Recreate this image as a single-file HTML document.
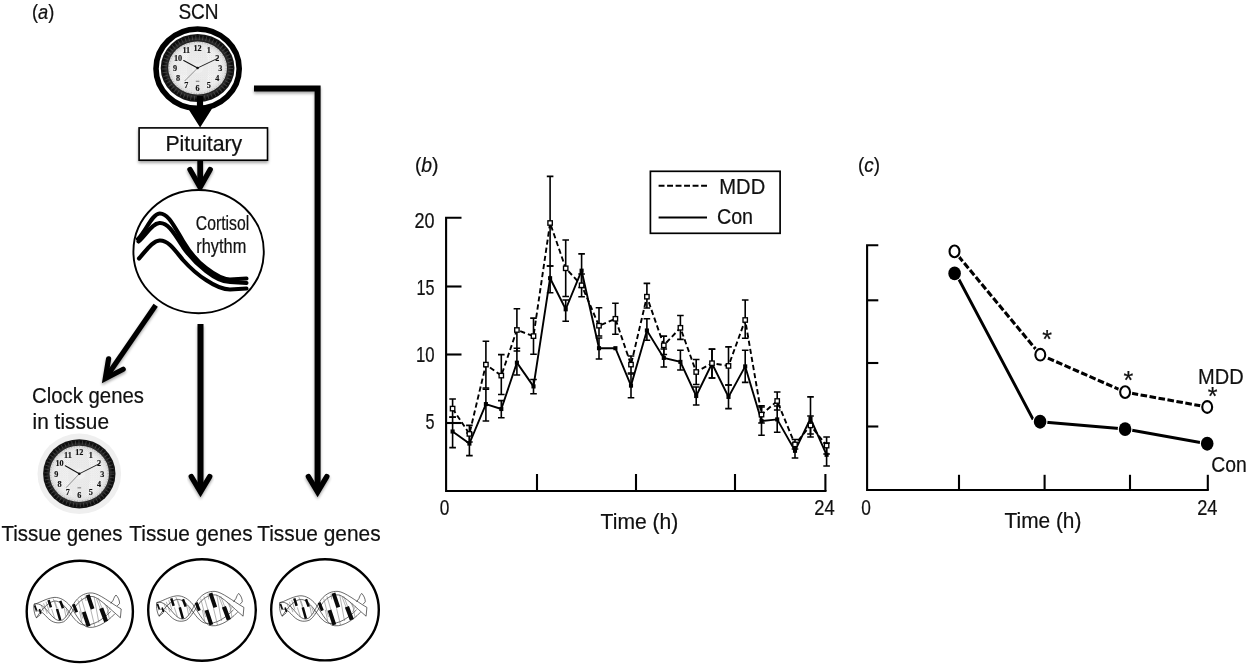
<!DOCTYPE html>
<html lang="en"><head><meta charset="utf-8"><title>Circadian clock, cortisol rhythm and clock gene expression</title>
<style>html,body{margin:0;padding:0;background:#fff}body{width:1250px;height:665px;overflow:hidden}svg{display:block}text{font-family:"Liberation Sans", Arial, sans-serif;fill:#111;stroke:#111;stroke-width:0.22px}.num text{font-family:"Liberation Serif",serif;font-weight:bold;fill:#111;stroke-width:0.15px}</style></head><body>
<svg width="1250" height="665" viewBox="0 0 1250 665">
<defs>
<radialGradient id="bezel" cx="50%" cy="50%" r="50%">
<stop offset="0.70" stop-color="#0c0c0c"/><stop offset="0.84" stop-color="#2b2b2b"/><stop offset="0.93" stop-color="#0a0a0a"/><stop offset="1" stop-color="#1a1a1a"/>
</radialGradient>
<radialGradient id="face" cx="50%" cy="50%" r="50%">
<stop offset="0" stop-color="#ffffff"/><stop offset="0.8" stop-color="#f4f4f4"/><stop offset="1" stop-color="#dcdcdc"/>
</radialGradient>
<pattern id="dots" width="2.2" height="2.2" patternUnits="userSpaceOnUse"><rect width="2.2" height="2.2" fill="none"/><circle cx="0.6" cy="0.6" r="0.5" fill="#8a8a8a"/><circle cx="1.7" cy="1.7" r="0.4" fill="#b0b0b0"/></pattern>
<filter id="sh" x="-20%" y="-20%" width="140%" height="160%"><feGaussianBlur in="SourceAlpha" stdDeviation="1.6"/><feOffset dx="0" dy="1.5"/><feComponentTransfer><feFuncA type="linear" slope="0.36"/></feComponentTransfer><feMerge><feMergeNode/><feMergeNode in="SourceGraphic"/></feMerge></filter>
</defs>
<rect width="1250" height="665" fill="#fff"/>
<g id="panel-a">
<text transform="translate(32.00,18.5) scale(0.8886,1)" font-size="20.5">(<tspan font-style="italic">a</tspan>)</text>
<text transform="translate(178.40,18.5) scale(0.8903,1)" font-size="21.4">SCN</text>
<ellipse cx="197.6" cy="68.7" rx="41.6" ry="39.7" fill="#fff" stroke="#000" stroke-width="5.6"/>
<g>
<ellipse cx="197.6" cy="68" rx="36.9" ry="34" fill="url(#bezel)"/>
<ellipse cx="197.6" cy="68" rx="33.15" ry="30.25" fill="none" stroke="#777" stroke-width="4.5" stroke-dasharray="0.9 2.6" opacity="0.45"/>
<ellipse cx="197.6" cy="68" rx="29.4" ry="26.5" fill="url(#face)"/>
<ellipse cx="197.6" cy="68" rx="29.4" ry="26.5" fill="url(#dots)" opacity="0.4"/>
<ellipse cx="197.6" cy="68" rx="10.584" ry="25.174999999999997" fill="#e4e4e4" opacity="0.55"/>
<ellipse cx="197.6" cy="68" rx="27.929999999999996" ry="7.949999999999999" fill="#e9e9e9" opacity="0.5"/>
<ellipse cx="197.6" cy="68" rx="5.88" ry="5.300000000000001" fill="#fafafa" opacity="0.35"/>
<ellipse cx="197.6" cy="68" rx="28.599999999999998" ry="25.7" fill="none" stroke="#777" stroke-width="1.4" stroke-dasharray="0.5 2.2" opacity="0.6"/>
<g class="num" font-size="8.2" text-anchor="middle">
<text x="208.9" y="53.3">1</text>
<text x="217.2" y="60.7">2</text>
<text x="220.2" y="70.8">3</text>
<text x="217.2" y="80.9">4</text>
<text x="208.9" y="88.2">5</text>
<text x="197.6" y="90.9">6</text>
<text x="186.3" y="88.2">7</text>
<text x="178.0" y="80.9">8</text>
<text x="175.0" y="70.8">9</text>
<text x="178.0" y="60.7">10</text>
<text x="186.3" y="53.3">11</text>
<text x="197.6" y="50.6">12</text>
</g>
<line x1="195.79999999999998" y1="81.25" x2="199.4" y2="81.25" stroke="#444" stroke-width="0.7"/>
<line x1="197.6" y1="68" x2="183.7" y2="60.5" stroke="#111" stroke-width="1.05" stroke-linecap="round"/>
<line x1="197.6" y1="68" x2="217.8" y2="58.3" stroke="#111" stroke-width="0.8925" stroke-linecap="round"/>
<line x1="197.6" y1="68" x2="184.6" y2="81.0" stroke="#333" stroke-width="0.5"/>
<circle cx="197.6" cy="68" r="1.3" fill="#111"/>
</g>
<path d="M196.9,96 L203.1,96 L203.1,106 L213.7,106 L200.1,127.5 L186.5,106 L196.9,106 Z" fill="#000"/>
<g filter="url(#sh)"><rect x="139.1" y="127.9" width="128.4" height="32.3" fill="#fff" stroke="#000" stroke-width="1.6"/></g>
<text transform="translate(165.40,151.1) scale(0.9670,1)" font-size="22">Pituitary</text>
<g filter="url(#sh)" stroke="#000" fill="none" stroke-linecap="round" stroke-linejoin="miter"><line x1="200.2" y1="161" x2="200.2" y2="184" stroke-width="5.8" stroke-linecap="butt"/><path d="M190,169.5 L200.1,187.3 L210.2,169.5" stroke-width="5.4"/></g>
<ellipse cx="198.6" cy="251.6" rx="65.2" ry="61.6" fill="#fff" stroke="#000" stroke-width="1.9"/>
<g fill="none" stroke="#000" stroke-width="4.1" stroke-linecap="round" stroke-linejoin="round">
<path d="M138,239 C146,231 152,214 159.5,213.5 C168,213 174,226 183,241 C192,256 198,262 206,268 C215,275 222,279.5 230,279.5 L246.5,278.5"/>
<path d="M138.5,241.5 C146,235 152,223.5 159.5,223 C168,222.5 174,233 183,247 C192,260 198,265 206,271 C215,278 222,282 230,282 L246.5,283"/>
<path d="M139,258.5 C146,251 152,241 159.5,240.5 C168,240 174,249 183,260 C192,270 198,275 206,280 C215,286 222,289.5 230,289.5 L246.5,288.5"/>
</g>
<text transform="translate(195.80,229.8) scale(0.8120,1)" font-size="19.4">Cortisol</text>
<text transform="translate(196.30,252.8) scale(0.8436,1)" font-size="19.4">rhythm</text>
<g filter="url(#sh)" stroke="#000" fill="none"><path d="M254,88.5 L317.6,88.5 L317.6,490" stroke-width="6" stroke-linejoin="miter"/><path d="M308.4,476.6 L317.6,492 L326.8,476.6" stroke-width="5.4" stroke-linecap="round"/></g>
<g filter="url(#sh)" stroke="#000" fill="none"><line x1="200.5" y1="324" x2="200.5" y2="490" stroke-width="6"/><path d="M191.3,476.6 L200.5,492 L209.7,476.6" stroke-width="5.4" stroke-linecap="round"/></g>
<g filter="url(#sh)" stroke="#000" fill="none"><line x1="155.7" y1="305.3" x2="107" y2="376" stroke-width="5.2"/><path d="M108.6,358.8 L105.3,378.6 L123.2,369.2" stroke-width="5.2" stroke-linecap="round" stroke-linejoin="miter"/></g>
<text transform="translate(32.00,402.8) scale(0.9333,1)" font-size="21.8">Clock genes</text>
<text transform="translate(32.60,429.3) scale(0.9562,1)" font-size="21.8">in tissue</text>
<ellipse cx="79.3" cy="473.8" rx="41.8" ry="40.2" fill="#efefef"/>
<g>
<ellipse cx="79.3" cy="473.8" rx="36.2" ry="34.6" fill="url(#bezel)"/>
<ellipse cx="79.3" cy="473.8" rx="32.95" ry="31.35" fill="none" stroke="#777" stroke-width="3.9" stroke-dasharray="0.9 2.6" opacity="0.45"/>
<ellipse cx="79.3" cy="473.8" rx="29.700000000000003" ry="28.1" fill="url(#face)"/>
<ellipse cx="79.3" cy="473.8" rx="29.700000000000003" ry="28.1" fill="url(#dots)" opacity="0.4"/>
<ellipse cx="79.3" cy="473.8" rx="10.692" ry="26.695" fill="#e4e4e4" opacity="0.55"/>
<ellipse cx="79.3" cy="473.8" rx="28.215" ry="8.43" fill="#e9e9e9" opacity="0.5"/>
<ellipse cx="79.3" cy="473.8" rx="5.940000000000001" ry="5.620000000000001" fill="#fafafa" opacity="0.35"/>
<ellipse cx="79.3" cy="473.8" rx="28.900000000000002" ry="27.3" fill="none" stroke="#777" stroke-width="1.4" stroke-dasharray="0.5 2.2" opacity="0.6"/>
<g class="num" font-size="8.2" text-anchor="middle">
<text x="90.7" y="458.1">1</text>
<text x="99.1" y="465.9">2</text>
<text x="102.2" y="476.6">3</text>
<text x="99.1" y="487.3">4</text>
<text x="90.7" y="495.1">5</text>
<text x="79.3" y="497.9">6</text>
<text x="67.9" y="495.1">7</text>
<text x="59.5" y="487.3">8</text>
<text x="56.4" y="476.6">9</text>
<text x="59.5" y="465.9">10</text>
<text x="67.9" y="458.1">11</text>
<text x="79.3" y="455.2">12</text>
</g>
<line x1="77.5" y1="487.85" x2="81.1" y2="487.85" stroke="#444" stroke-width="0.7"/>
<line x1="79.3" y1="473.8" x2="65.3" y2="465.8" stroke="#111" stroke-width="1.05" stroke-linecap="round"/>
<line x1="79.3" y1="473.8" x2="99.8" y2="463.5" stroke="#111" stroke-width="0.8925" stroke-linecap="round"/>
<line x1="79.3" y1="473.8" x2="66.2" y2="487.6" stroke="#333" stroke-width="0.5"/>
<circle cx="79.3" cy="473.8" r="1.3" fill="#111"/>
</g>
<text transform="translate(1.60,540.6) scale(0.9376,1)" font-size="21.8">Tissue genes</text>
<text transform="translate(129.30,540.6) scale(0.9570,1)" font-size="21.8">Tissue genes</text>
<text transform="translate(257.20,540.6) scale(0.9586,1)" font-size="21.8">Tissue genes</text>
<ellipse cx="79.8" cy="611.4" rx="53.1" ry="50.7" fill="#fff" stroke="#000" stroke-width="2.4"/>
<g transform="translate(0,0)" fill="none" stroke="#1a1a1a" stroke-width="0.65">
<path d="M34.00,604.20 C40.40,602.20 45.20,608.20 50.00,613.80 C54.00,618.60 58.00,622.20 62.80,619.80 C67.60,616.60 70.80,607.40 75.60,601.00 C80.40,595.00 86.00,592.60 92.40,593.00 C99.60,593.80 110.00,602.60 121.20,609.00"/>
<path d="M35.60,611.40 C40.40,609.00 44.40,614.60 48.40,618.60 C52.40,622.20 57.20,624.20 63.60,621.80 C68.40,619.00 72.40,610.60 77.20,604.20 C82.00,598.60 87.60,595.80 93.20,596.60 C99.60,598.20 110.00,609.00 120.40,617.80"/>
<path d="M121.20,609.00 L120.40,617.80"/>
<path d="M34.00,604.20 C38.80,603.40 45.20,598.60 54.00,597.40 C60.40,597.00 66.00,601.00 70.00,605.80 C74.80,612.20 79.60,622.60 86.00,626.60 C94.00,629.80 106.00,623.40 114.80,613.80"/>
<path d="M36.40,617.80 C40.40,611.40 46.80,603.00 54.00,601.00 C59.60,600.60 63.60,605.00 67.60,609.80 C72.40,616.20 77.20,624.20 83.60,625.00 C93.20,625.80 102.00,620.20 110.80,611.40"/>
<path d="M113.20,600.20 C114.00,597.80 114.80,596.20 116.00,595.00 C118.00,597.00 119.60,600.20 119.60,603.40 L117.20,605.96 M113.20,600.20 L110.80,603.40"/>
<path d="M34.00,604.20 C33.20,609.00 34.80,615.40 36.40,617.80 L40.40,614.60"/>
<path d="M43.60,603.40 L47.20,613.80" stroke="#666" stroke-width="0.5"/>
<path d="M53.20,598.60 L57.60,611.40" stroke="#666" stroke-width="0.5"/>
<path d="M54.80,601.00 L57.20,608.20" stroke="#666" stroke-width="0.5"/>
<path d="M63.60,605.00 L66.00,617.00" stroke="#666" stroke-width="0.5"/>
<path d="M78.00,600.20 L82.80,618.60" stroke="#666" stroke-width="0.5"/>
<path d="M81.20,597.80 L85.20,611.40" stroke="#666" stroke-width="0.5"/>
<path d="M94.00,596.20 L98.80,622.60" stroke="#666" stroke-width="0.5"/>
<path d="M96.40,598.60 L100.40,609.00" stroke="#666" stroke-width="0.5"/>
<path d="M106.80,605.00 L109.20,618.60" stroke="#666" stroke-width="0.5"/>
<path d="M110.00,607.40 L106.80,613.80" stroke="#666" stroke-width="0.5"/>
<path d="M85.20,595.40 L86.00,601.00" stroke="#666" stroke-width="0.5"/>
<path d="M46.00,601.80 L49.20,611.40" stroke="#666" stroke-width="0.5"/>
<path d="M51.60,609.00 L54.80,618.60" stroke="#666" stroke-width="0.5"/>
<path d="M66.00,609.00 L68.40,615.40" stroke="#666" stroke-width="0.5"/>
<path d="M79.60,611.40 L82.00,622.60" stroke="#666" stroke-width="0.5"/>
<path d="M90.80,609.80 L94.80,626.60" stroke="#666" stroke-width="0.5"/>
<path d="M98.00,597.80 L102.00,608.20" stroke="#666" stroke-width="0.5"/>
<path d="M104.40,603.40 L107.60,609.00" stroke="#666" stroke-width="0.5"/>
<path d="M41.20,605.00 L43.60,611.40" stroke="#666" stroke-width="0.5"/>
<path d="M34.64,605.40 L36.56,610.60" stroke="#0a0a0a" stroke-width="1.79"/>
<path d="M39.44,609.00 L40.88,613.80" stroke="#0a0a0a" stroke-width="1.61"/>
<path d="M48.56,600.04 L50.96,607.40" stroke="#0a0a0a" stroke-width="2.51"/>
<path d="M57.04,609.00 L60.24,620.20" stroke="#0a0a0a" stroke-width="2.51"/>
<path d="M60.24,600.84 L62.96,608.20" stroke="#0a0a0a" stroke-width="2.51"/>
<path d="M73.44,604.20 L76.64,612.20" stroke="#0a0a0a" stroke-width="3.05"/>
<path d="M83.76,611.80 L88.64,626.44" stroke="#0a0a0a" stroke-width="3.94"/>
<path d="M87.76,594.76 L92.56,609.00" stroke="#0a0a0a" stroke-width="3.94"/>
<path d="M101.20,608.36 L106.16,621.40" stroke="#0a0a0a" stroke-width="4.30"/>
</g>
<ellipse cx="202" cy="610" rx="53.8" ry="50.8" fill="#fff" stroke="#000" stroke-width="2.4"/>
<g transform="translate(122.7,-1.6)" fill="none" stroke="#1a1a1a" stroke-width="0.65">
<path d="M34.00,604.20 C40.40,602.20 45.20,608.20 50.00,613.80 C54.00,618.60 58.00,622.20 62.80,619.80 C67.60,616.60 70.80,607.40 75.60,601.00 C80.40,595.00 86.00,592.60 92.40,593.00 C99.60,593.80 110.00,602.60 121.20,609.00"/>
<path d="M35.60,611.40 C40.40,609.00 44.40,614.60 48.40,618.60 C52.40,622.20 57.20,624.20 63.60,621.80 C68.40,619.00 72.40,610.60 77.20,604.20 C82.00,598.60 87.60,595.80 93.20,596.60 C99.60,598.20 110.00,609.00 120.40,617.80"/>
<path d="M121.20,609.00 L120.40,617.80"/>
<path d="M34.00,604.20 C38.80,603.40 45.20,598.60 54.00,597.40 C60.40,597.00 66.00,601.00 70.00,605.80 C74.80,612.20 79.60,622.60 86.00,626.60 C94.00,629.80 106.00,623.40 114.80,613.80"/>
<path d="M36.40,617.80 C40.40,611.40 46.80,603.00 54.00,601.00 C59.60,600.60 63.60,605.00 67.60,609.80 C72.40,616.20 77.20,624.20 83.60,625.00 C93.20,625.80 102.00,620.20 110.80,611.40"/>
<path d="M113.20,600.20 C114.00,597.80 114.80,596.20 116.00,595.00 C118.00,597.00 119.60,600.20 119.60,603.40 L117.20,605.96 M113.20,600.20 L110.80,603.40"/>
<path d="M34.00,604.20 C33.20,609.00 34.80,615.40 36.40,617.80 L40.40,614.60"/>
<path d="M43.60,603.40 L47.20,613.80" stroke="#666" stroke-width="0.5"/>
<path d="M53.20,598.60 L57.60,611.40" stroke="#666" stroke-width="0.5"/>
<path d="M54.80,601.00 L57.20,608.20" stroke="#666" stroke-width="0.5"/>
<path d="M63.60,605.00 L66.00,617.00" stroke="#666" stroke-width="0.5"/>
<path d="M78.00,600.20 L82.80,618.60" stroke="#666" stroke-width="0.5"/>
<path d="M81.20,597.80 L85.20,611.40" stroke="#666" stroke-width="0.5"/>
<path d="M94.00,596.20 L98.80,622.60" stroke="#666" stroke-width="0.5"/>
<path d="M96.40,598.60 L100.40,609.00" stroke="#666" stroke-width="0.5"/>
<path d="M106.80,605.00 L109.20,618.60" stroke="#666" stroke-width="0.5"/>
<path d="M110.00,607.40 L106.80,613.80" stroke="#666" stroke-width="0.5"/>
<path d="M85.20,595.40 L86.00,601.00" stroke="#666" stroke-width="0.5"/>
<path d="M46.00,601.80 L49.20,611.40" stroke="#666" stroke-width="0.5"/>
<path d="M51.60,609.00 L54.80,618.60" stroke="#666" stroke-width="0.5"/>
<path d="M66.00,609.00 L68.40,615.40" stroke="#666" stroke-width="0.5"/>
<path d="M79.60,611.40 L82.00,622.60" stroke="#666" stroke-width="0.5"/>
<path d="M90.80,609.80 L94.80,626.60" stroke="#666" stroke-width="0.5"/>
<path d="M98.00,597.80 L102.00,608.20" stroke="#666" stroke-width="0.5"/>
<path d="M104.40,603.40 L107.60,609.00" stroke="#666" stroke-width="0.5"/>
<path d="M41.20,605.00 L43.60,611.40" stroke="#666" stroke-width="0.5"/>
<path d="M34.64,605.40 L36.56,610.60" stroke="#0a0a0a" stroke-width="1.79"/>
<path d="M39.44,609.00 L40.88,613.80" stroke="#0a0a0a" stroke-width="1.61"/>
<path d="M48.56,600.04 L50.96,607.40" stroke="#0a0a0a" stroke-width="2.51"/>
<path d="M57.04,609.00 L60.24,620.20" stroke="#0a0a0a" stroke-width="2.51"/>
<path d="M60.24,600.84 L62.96,608.20" stroke="#0a0a0a" stroke-width="2.51"/>
<path d="M73.44,604.20 L76.64,612.20" stroke="#0a0a0a" stroke-width="3.05"/>
<path d="M83.76,611.80 L88.64,626.44" stroke="#0a0a0a" stroke-width="3.94"/>
<path d="M87.76,594.76 L92.56,609.00" stroke="#0a0a0a" stroke-width="3.94"/>
<path d="M101.20,608.36 L106.16,621.40" stroke="#0a0a0a" stroke-width="4.30"/>
</g>
<ellipse cx="325" cy="609.8" rx="53.8" ry="50.6" fill="#fff" stroke="#000" stroke-width="2.4"/>
<g transform="translate(245.7,-1.6)" fill="none" stroke="#1a1a1a" stroke-width="0.65">
<path d="M34.00,604.20 C40.40,602.20 45.20,608.20 50.00,613.80 C54.00,618.60 58.00,622.20 62.80,619.80 C67.60,616.60 70.80,607.40 75.60,601.00 C80.40,595.00 86.00,592.60 92.40,593.00 C99.60,593.80 110.00,602.60 121.20,609.00"/>
<path d="M35.60,611.40 C40.40,609.00 44.40,614.60 48.40,618.60 C52.40,622.20 57.20,624.20 63.60,621.80 C68.40,619.00 72.40,610.60 77.20,604.20 C82.00,598.60 87.60,595.80 93.20,596.60 C99.60,598.20 110.00,609.00 120.40,617.80"/>
<path d="M121.20,609.00 L120.40,617.80"/>
<path d="M34.00,604.20 C38.80,603.40 45.20,598.60 54.00,597.40 C60.40,597.00 66.00,601.00 70.00,605.80 C74.80,612.20 79.60,622.60 86.00,626.60 C94.00,629.80 106.00,623.40 114.80,613.80"/>
<path d="M36.40,617.80 C40.40,611.40 46.80,603.00 54.00,601.00 C59.60,600.60 63.60,605.00 67.60,609.80 C72.40,616.20 77.20,624.20 83.60,625.00 C93.20,625.80 102.00,620.20 110.80,611.40"/>
<path d="M113.20,600.20 C114.00,597.80 114.80,596.20 116.00,595.00 C118.00,597.00 119.60,600.20 119.60,603.40 L117.20,605.96 M113.20,600.20 L110.80,603.40"/>
<path d="M34.00,604.20 C33.20,609.00 34.80,615.40 36.40,617.80 L40.40,614.60"/>
<path d="M43.60,603.40 L47.20,613.80" stroke="#666" stroke-width="0.5"/>
<path d="M53.20,598.60 L57.60,611.40" stroke="#666" stroke-width="0.5"/>
<path d="M54.80,601.00 L57.20,608.20" stroke="#666" stroke-width="0.5"/>
<path d="M63.60,605.00 L66.00,617.00" stroke="#666" stroke-width="0.5"/>
<path d="M78.00,600.20 L82.80,618.60" stroke="#666" stroke-width="0.5"/>
<path d="M81.20,597.80 L85.20,611.40" stroke="#666" stroke-width="0.5"/>
<path d="M94.00,596.20 L98.80,622.60" stroke="#666" stroke-width="0.5"/>
<path d="M96.40,598.60 L100.40,609.00" stroke="#666" stroke-width="0.5"/>
<path d="M106.80,605.00 L109.20,618.60" stroke="#666" stroke-width="0.5"/>
<path d="M110.00,607.40 L106.80,613.80" stroke="#666" stroke-width="0.5"/>
<path d="M85.20,595.40 L86.00,601.00" stroke="#666" stroke-width="0.5"/>
<path d="M46.00,601.80 L49.20,611.40" stroke="#666" stroke-width="0.5"/>
<path d="M51.60,609.00 L54.80,618.60" stroke="#666" stroke-width="0.5"/>
<path d="M66.00,609.00 L68.40,615.40" stroke="#666" stroke-width="0.5"/>
<path d="M79.60,611.40 L82.00,622.60" stroke="#666" stroke-width="0.5"/>
<path d="M90.80,609.80 L94.80,626.60" stroke="#666" stroke-width="0.5"/>
<path d="M98.00,597.80 L102.00,608.20" stroke="#666" stroke-width="0.5"/>
<path d="M104.40,603.40 L107.60,609.00" stroke="#666" stroke-width="0.5"/>
<path d="M41.20,605.00 L43.60,611.40" stroke="#666" stroke-width="0.5"/>
<path d="M34.64,605.40 L36.56,610.60" stroke="#0a0a0a" stroke-width="1.79"/>
<path d="M39.44,609.00 L40.88,613.80" stroke="#0a0a0a" stroke-width="1.61"/>
<path d="M48.56,600.04 L50.96,607.40" stroke="#0a0a0a" stroke-width="2.51"/>
<path d="M57.04,609.00 L60.24,620.20" stroke="#0a0a0a" stroke-width="2.51"/>
<path d="M60.24,600.84 L62.96,608.20" stroke="#0a0a0a" stroke-width="2.51"/>
<path d="M73.44,604.20 L76.64,612.20" stroke="#0a0a0a" stroke-width="3.05"/>
<path d="M83.76,611.80 L88.64,626.44" stroke="#0a0a0a" stroke-width="3.94"/>
<path d="M87.76,594.76 L92.56,609.00" stroke="#0a0a0a" stroke-width="3.94"/>
<path d="M101.20,608.36 L106.16,621.40" stroke="#0a0a0a" stroke-width="4.30"/>
</g>
</g>
<g id="panel-b">
<text transform="translate(414.90,172.0) scale(0.9444,1)" font-size="20.5">(<tspan font-style="italic">b</tspan>)</text>
<g stroke="#000" stroke-width="2.1" fill="none">
<path d="M461.5,217.8 L446.1,217.8 L446.1,491 L826.5,491" stroke-linejoin="miter"/>
<line x1="446" y1="286.5" x2="461.5" y2="286.5"/>
<line x1="446" y1="354.5" x2="461.5" y2="354.5"/>
<line x1="446" y1="423" x2="461.5" y2="423"/>
<line x1="537" y1="474" x2="537" y2="491"/>
<line x1="636" y1="474" x2="636" y2="491"/>
<line x1="735" y1="474" x2="735" y2="491"/>
<line x1="825.4" y1="474" x2="825.4" y2="491"/>
</g>
<text transform="translate(414.60,228.2) scale(0.8342,1)" font-size="21.6">20</text>
<text transform="translate(416.60,294.6) scale(0.7508,1)" font-size="21.6">15</text>
<text transform="translate(416.00,362.1) scale(0.7758,1)" font-size="21.6">10</text>
<text transform="translate(425.60,429.4) scale(0.7508,1)" font-size="21.6">5</text>
<text transform="translate(439.80,515.4) scale(0.8008,1)" font-size="21.6">0</text>
<text transform="translate(814.20,515.4) scale(0.8509,1)" font-size="21.6">24</text>
<text transform="translate(600.60,528.8) scale(0.9685,1)" font-size="21.8">Time (h)</text>
<rect x="650.4" y="171.3" width="129.7" height="62" fill="#fff" stroke="#000" stroke-width="1.7"/>
<line x1="658.6" y1="185.7" x2="707" y2="185.7" stroke="#000" stroke-width="2" stroke-dasharray="5.9 2.6"/>
<line x1="658.6" y1="217.4" x2="707" y2="217.4" stroke="#000" stroke-width="2"/>
<text transform="translate(719.30,193.8) scale(0.9171,1)" font-size="22">MDD</text>
<text transform="translate(716.90,224.4) scale(0.8967,1)" font-size="22">Con</text>
<g stroke="#000" stroke-width="1.6" fill="none">
<path d="M449.3,399 H455.9 M452.6,399 V417.3 M449.3,417.3 H455.9"/>
<path d="M466.1,425.4 H472.7 M469.4,425.4 V442 M466.1,442 H472.7"/>
<path d="M482.6,341.3 H489.2 M485.9,341.3 V388 M482.6,388 H489.2"/>
<path d="M498.0,354.6 H504.6 M501.3,354.6 V394.5 M498.0,394.5 H504.6"/>
<path d="M513.6,308.8 H520.2 M516.9,308.8 V351 M513.6,351 H520.2"/>
<path d="M530.2,318.1 H536.8 M533.5,318.1 V354.2 M530.2,354.2 H536.8"/>
<path d="M546.8,176.4 H553.4 M550.1,176.4 V266 M546.8,266 H553.4"/>
<path d="M562.4,240 H569.0 M565.7,240 V296.5 M562.4,296.5 H569.0"/>
<path d="M578.3,274 H584.9 M581.6,274 V296.7 M578.3,296.7 H584.9"/>
<path d="M595.7,307.7 H602.3 M599.0,307.7 V336 M595.7,336 H602.3"/>
<path d="M612.1,303.2 H618.7 M615.4,303.2 V334.2 M612.1,334.2 H618.7"/>
<path d="M627.7,356 H634.3 M631.0,356 V373 M627.7,373 H634.3"/>
<path d="M643.6,283.4 H650.2 M646.9,283.4 V308 M643.6,308 H650.2"/>
<path d="M660.5,336.1 H667.1 M663.8,336.1 V354.5 M660.5,354.5 H667.1"/>
<path d="M677.1,315.5 H683.7 M680.4,315.5 V339.4 M677.1,339.4 H683.7"/>
<path d="M692.9,359.5 H699.5 M696.2,359.5 V384.5 M692.9,384.5 H699.5"/>
<path d="M708.7,349.3 H715.3 M712.0,349.3 V378 M708.7,378 H715.3"/>
<path d="M725.2,346.9 H731.8 M728.5,346.9 V385 M725.2,385 H731.8"/>
<path d="M741.9,300 H748.5 M745.2,300 V338.2 M741.9,338.2 H748.5"/>
<path d="M758.2,405.7 H764.8 M761.5,405.7 V423 M758.2,423 H764.8"/>
<path d="M773.9,392 H780.5 M777.2,392 V410 M773.9,410 H780.5"/>
<path d="M791.7,439.5 H798.3 M795.0,439.5 V449 M791.7,449 H798.3"/>
<path d="M807.2,416 H813.8 M810.5,416 V434 M807.2,434 H813.8"/>
<path d="M823.3,437 H829.9 M826.6,437 V454 M823.3,454 H829.9"/>
<path d="M449.3,417 H455.9 M452.6,417 V447.6 M449.3,447.6 H455.9"/>
<path d="M466.1,433 H472.7 M469.4,433 V455.6 M466.1,455.6 H472.7"/>
<path d="M482.6,389.3 H489.2 M485.9,389.3 V421 M482.6,421 H489.2"/>
<path d="M498.0,400.6 H504.6 M501.3,400.6 V417.8 M498.0,417.8 H504.6"/>
<path d="M513.6,348.2 H520.2 M516.9,348.2 V375 M513.6,375 H520.2"/>
<path d="M530.2,379.5 H536.8 M533.5,379.5 V393.7 M530.2,393.7 H536.8"/>
<path d="M546.8,266 H553.4 M550.1,266 V292.7 M546.8,292.7 H553.4"/>
<path d="M562.4,300 H569.0 M565.7,300 V321.2 M562.4,321.2 H569.0"/>
<path d="M578.3,253.9 H584.9 M581.6,253.9 V287.5 M578.3,287.5 H584.9"/>
<path d="M595.7,338 H602.3 M599.0,338 V359 M595.7,359 H602.3"/>
<path d="M627.7,374 H634.3 M631.0,374 V397.7 M627.7,397.7 H634.3"/>
<path d="M643.6,318.8 H650.2 M646.9,318.8 V340.2 M643.6,340.2 H650.2"/>
<path d="M660.5,349 H667.1 M663.8,349 V367 M660.5,367 H667.1"/>
<path d="M677.1,350.3 H683.7 M680.4,350.3 V370 M677.1,370 H683.7"/>
<path d="M692.9,387 H699.5 M696.2,387 V405 M692.9,405 H699.5"/>
<path d="M708.7,349 H715.3 M712.0,349 V378 M708.7,378 H715.3"/>
<path d="M725.2,385 H731.8 M728.5,385 V408.6 M725.2,408.6 H731.8"/>
<path d="M741.9,350.3 H748.5 M745.2,350.3 V382.4 M741.9,382.4 H748.5"/>
<path d="M758.2,407 H764.8 M761.5,407 V435.2 M758.2,435.2 H764.8"/>
<path d="M773.9,406 H780.5 M777.2,406 V432.3 M773.9,432.3 H780.5"/>
<path d="M791.7,443 H798.3 M795.0,443 V458 M791.7,458 H798.3"/>
<path d="M807.2,396.9 H813.8 M810.5,396.9 V437 M807.2,437 H813.8"/>
<path d="M823.3,443 H829.9 M826.6,443 V466 M823.3,466 H829.9"/>
</g>
<polyline points="452.6,408.6 469.4,433.9 485.9,364.6 501.3,375.6 516.9,330 533.5,336.1 550.1,223 565.7,268.3 581.6,285.3 599,325.7 615.4,318.8 631,364.6 646.9,296.7 663.8,345.3 680.4,327.8 696.2,372 712,363.2 728.5,365.9 745.2,320 761.5,414.6 777.2,401 795,444.4 810.5,425.4 826.6,445.6" fill="none" stroke="#000" stroke-width="1.9" stroke-dasharray="5.2 3"/>
<polyline points="452.6,431.5 469.4,443.6 485.9,404.1 501.3,409 516.9,362.7 533.5,386.4 550.1,278.2 565.7,309.3 581.6,270.7 599,348.2 615.4,348.2 631,385.6 646.9,330.5 663.8,357.9 680.4,361.9 696.2,396 712,363.5 728.5,396.9 745.2,366.4 761.5,421 777.2,419.4 795,450.8 810.5,418.6 826.6,454.8" fill="none" stroke="#000" stroke-width="1.9" stroke-linejoin="miter"/>
<rect x="450.55" y="429.45" width="4.1" height="4.1" fill="#000"/>
<rect x="467.35" y="441.55" width="4.1" height="4.1" fill="#000"/>
<rect x="483.85" y="402.05" width="4.1" height="4.1" fill="#000"/>
<rect x="499.25" y="406.95" width="4.1" height="4.1" fill="#000"/>
<rect x="514.85" y="360.65" width="4.1" height="4.1" fill="#000"/>
<rect x="531.45" y="384.35" width="4.1" height="4.1" fill="#000"/>
<rect x="548.05" y="276.15" width="4.1" height="4.1" fill="#000"/>
<rect x="563.65" y="307.25" width="4.1" height="4.1" fill="#000"/>
<rect x="579.55" y="268.65" width="4.1" height="4.1" fill="#000"/>
<rect x="596.95" y="346.15" width="4.1" height="4.1" fill="#000"/>
<rect x="613.35" y="346.15" width="4.1" height="4.1" fill="#000"/>
<rect x="628.95" y="383.55" width="4.1" height="4.1" fill="#000"/>
<rect x="644.85" y="328.45" width="4.1" height="4.1" fill="#000"/>
<rect x="661.75" y="355.85" width="4.1" height="4.1" fill="#000"/>
<rect x="678.35" y="359.85" width="4.1" height="4.1" fill="#000"/>
<rect x="694.15" y="393.95" width="4.1" height="4.1" fill="#000"/>
<rect x="709.95" y="361.45" width="4.1" height="4.1" fill="#000"/>
<rect x="726.45" y="394.85" width="4.1" height="4.1" fill="#000"/>
<rect x="743.15" y="364.35" width="4.1" height="4.1" fill="#000"/>
<rect x="759.45" y="418.95" width="4.1" height="4.1" fill="#000"/>
<rect x="775.15" y="417.35" width="4.1" height="4.1" fill="#000"/>
<rect x="792.95" y="448.75" width="4.1" height="4.1" fill="#000"/>
<rect x="808.45" y="416.55" width="4.1" height="4.1" fill="#000"/>
<rect x="824.55" y="452.75" width="4.1" height="4.1" fill="#000"/>
<rect x="450.40" y="406.40" width="4.4" height="4.4" fill="#fff" stroke="#000" stroke-width="1.35"/>
<rect x="467.20" y="431.70" width="4.4" height="4.4" fill="#fff" stroke="#000" stroke-width="1.35"/>
<rect x="483.70" y="362.40" width="4.4" height="4.4" fill="#fff" stroke="#000" stroke-width="1.35"/>
<rect x="499.10" y="373.40" width="4.4" height="4.4" fill="#fff" stroke="#000" stroke-width="1.35"/>
<rect x="514.70" y="327.80" width="4.4" height="4.4" fill="#fff" stroke="#000" stroke-width="1.35"/>
<rect x="531.30" y="333.90" width="4.4" height="4.4" fill="#fff" stroke="#000" stroke-width="1.35"/>
<rect x="547.90" y="220.80" width="4.4" height="4.4" fill="#fff" stroke="#000" stroke-width="1.35"/>
<rect x="563.50" y="266.10" width="4.4" height="4.4" fill="#fff" stroke="#000" stroke-width="1.35"/>
<rect x="579.40" y="283.10" width="4.4" height="4.4" fill="#fff" stroke="#000" stroke-width="1.35"/>
<rect x="596.80" y="323.50" width="4.4" height="4.4" fill="#fff" stroke="#000" stroke-width="1.35"/>
<rect x="613.20" y="316.60" width="4.4" height="4.4" fill="#fff" stroke="#000" stroke-width="1.35"/>
<rect x="628.80" y="362.40" width="4.4" height="4.4" fill="#fff" stroke="#000" stroke-width="1.35"/>
<rect x="644.70" y="294.50" width="4.4" height="4.4" fill="#fff" stroke="#000" stroke-width="1.35"/>
<rect x="661.60" y="343.10" width="4.4" height="4.4" fill="#fff" stroke="#000" stroke-width="1.35"/>
<rect x="678.20" y="325.60" width="4.4" height="4.4" fill="#fff" stroke="#000" stroke-width="1.35"/>
<rect x="694.00" y="369.80" width="4.4" height="4.4" fill="#fff" stroke="#000" stroke-width="1.35"/>
<rect x="709.80" y="361.00" width="4.4" height="4.4" fill="#fff" stroke="#000" stroke-width="1.35"/>
<rect x="726.30" y="363.70" width="4.4" height="4.4" fill="#fff" stroke="#000" stroke-width="1.35"/>
<rect x="743.00" y="317.80" width="4.4" height="4.4" fill="#fff" stroke="#000" stroke-width="1.35"/>
<rect x="759.30" y="412.40" width="4.4" height="4.4" fill="#fff" stroke="#000" stroke-width="1.35"/>
<rect x="775.00" y="398.80" width="4.4" height="4.4" fill="#fff" stroke="#000" stroke-width="1.35"/>
<rect x="792.80" y="442.20" width="4.4" height="4.4" fill="#fff" stroke="#000" stroke-width="1.35"/>
<rect x="808.30" y="423.20" width="4.4" height="4.4" fill="#fff" stroke="#000" stroke-width="1.35"/>
<rect x="824.40" y="443.40" width="4.4" height="4.4" fill="#fff" stroke="#000" stroke-width="1.35"/>
</g>
<g id="panel-c">
<text transform="translate(858.00,172.0) scale(0.9188,1)" font-size="20.5">(<tspan font-style="italic">c</tspan>)</text>
<g stroke="#000" stroke-width="2.1" fill="none">
<path d="M878.3,245.2 L867.1,245.2 L867.1,490 L1208.8,490"/>
<line x1="867" y1="300.3" x2="878.3" y2="300.3"/>
<line x1="867" y1="363" x2="878.3" y2="363"/>
<line x1="867" y1="426.5" x2="878.3" y2="426.5"/>
<line x1="959" y1="474.8" x2="959" y2="490"/>
<line x1="1044.6" y1="474.8" x2="1044.6" y2="490"/>
<line x1="1130" y1="474.8" x2="1130" y2="490"/>
<line x1="1207.8" y1="474.8" x2="1207.8" y2="490"/>
</g>
<text transform="translate(861.20,515.4) scale(0.8008,1)" font-size="21.6">0</text>
<text transform="translate(1197.20,515.4) scale(0.8425,1)" font-size="21.6">24</text>
<text transform="translate(1004.60,528.3) scale(0.9560,1)" font-size="21.8">Time (h)</text>
<polyline points="954.5,251.4 1040.3,354.7 1125.1,392.1 1207.2,407" fill="none" stroke="#000" stroke-width="3.1" stroke-dasharray="6.6 2.5" stroke-dashoffset="3"/>
<path d="M958.5,278.6 L1033.2,419.6 M1040.1,421.7 L1125.1,429.1 L1207.2,443.7" fill="none" stroke="#000" stroke-width="3"/>
<ellipse cx="954.5" cy="251.4" rx="7.2" ry="7.9" fill="#fff"/>
<ellipse cx="954.5" cy="251.4" rx="4.95" ry="5.85" fill="#fff" stroke="#000" stroke-width="2.1"/>
<ellipse cx="1040.3" cy="354.7" rx="7.2" ry="7.9" fill="#fff"/>
<ellipse cx="1040.3" cy="354.7" rx="4.95" ry="5.85" fill="#fff" stroke="#000" stroke-width="2.1"/>
<ellipse cx="1125.1" cy="392.1" rx="7.2" ry="7.9" fill="#fff"/>
<ellipse cx="1125.1" cy="392.1" rx="4.95" ry="5.85" fill="#fff" stroke="#000" stroke-width="2.1"/>
<ellipse cx="1207.2" cy="407" rx="7.2" ry="7.9" fill="#fff"/>
<ellipse cx="1207.2" cy="407" rx="4.95" ry="5.85" fill="#fff" stroke="#000" stroke-width="2.1"/>
<ellipse cx="954.6" cy="273.4" rx="7.4" ry="8.0" fill="#fff"/>
<ellipse cx="954.6" cy="273.4" rx="6.3" ry="6.95" fill="#000"/>
<ellipse cx="1040.1" cy="421.7" rx="7.4" ry="8.0" fill="#fff"/>
<ellipse cx="1040.1" cy="421.7" rx="6.3" ry="6.95" fill="#000"/>
<ellipse cx="1125.1" cy="429.1" rx="7.4" ry="8.0" fill="#fff"/>
<ellipse cx="1125.1" cy="429.1" rx="6.3" ry="6.95" fill="#000"/>
<ellipse cx="1207.2" cy="443.7" rx="7.4" ry="8.0" fill="#fff"/>
<ellipse cx="1207.2" cy="443.7" rx="6.3" ry="6.95" fill="#000"/>
<text x="1047" y="347.6" font-size="25" text-anchor="middle">*</text>
<text x="1128.4" y="389.40000000000003" font-size="25" text-anchor="middle">*</text>
<text x="1212.5" y="404.6" font-size="25" text-anchor="middle">*</text>
<text transform="translate(1198.00,383.5) scale(0.9111,1)" font-size="22">MDD</text>
<text transform="translate(1211.20,471.9) scale(0.8957,1)" font-size="21.6">Con</text>
</g>
</svg></body></html>
